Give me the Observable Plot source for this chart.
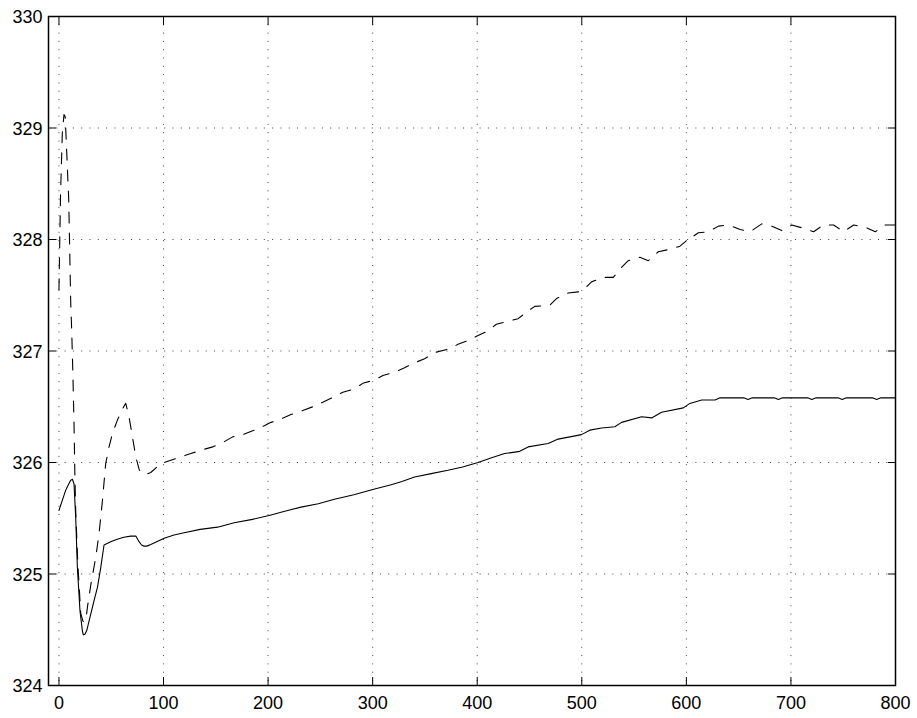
<!DOCTYPE html>
<html><head><meta charset="utf-8">
<script src="https://cdn.jsdelivr.net/npm/d3@7"></script>
<script src="https://cdn.jsdelivr.net/npm/@observablehq/plot@0.6"></script>
<style>html,body{margin:0;padding:0;background:#fff;} svg{display:block}
#chart svg text{font-size:18px !important;font-family:'Liberation Sans',Arial,sans-serif !important;fill:#000;}</style>
</head><body><div id="chart"></div>
<script>
const xTicks = [0, 100, 200, 300, 400, 500, 600, 700, 800];
const yTicks = [324, 325, 326, 327, 328, 329, 330];

// solid series [x, y]
const solidSeries = [
  [0,325.57],[3.2,325.66],[6.4,325.75],[9,325.80],[11.2,325.84],[12.8,325.85],[14.4,325.81],
  [16,325.51],[17.6,325.06],[20.1,324.67],[22.4,324.49],[23.3,324.455],[24.8,324.46],[26.5,324.49],
  [30.4,324.64],[33.5,324.76],[36.8,324.88],[40,325.06],[43.1,325.26],[49.5,325.29],[55,325.31],
  [62,325.33],[68.7,325.34],[73.5,325.34],[76.6,325.29],[79,325.26],[81.4,325.25],[84,325.25],
  [87.8,325.265],[100.6,325.32],[110,325.35],[119.7,325.37],[135,325.40],[151.7,325.42],
  [167.6,325.46],[185,325.49],[201,325.525],[215,325.56],[231.5,325.60],[248,325.63],
  [263.4,325.67],[282,325.71],[301,325.76],[317.7,325.80],[328,325.83],[340,325.87],[356,325.90],
  [372,325.93],[386,325.96],[400.8,326.0],[413,326.04],[426.2,326.08],[440.6,326.10],[448.7,326.14],
  [467.8,326.17],[477.4,326.21],[499.7,326.25],[507.7,326.29],[518.9,326.31],[531.6,326.32],
  [538,326.36],[557.2,326.41],[566.8,326.40],[576.3,326.45],[597.1,326.49],[603.4,326.53],
  [614.7,326.56],[627.4,326.56],[632.2,326.58],[655,326.58],[659,326.565],[663,326.58],
  [684,326.58],[688,326.565],[692,326.58],[716,326.58],[720,326.565],[724,326.58],[745,326.58],
  [749,326.565],[753,326.58],[778,326.58],[782,326.565],[786,326.58],[800,326.58]
];

// dashed series [x, y]
const dashedSeries = [
  [0,327.55],[1.5,328.4],[3.2,328.95],[4.8,329.12],[6,329.1],[6.9,328.9],[8,328.65],[9.3,328.37],
  [10.2,327.95],[11.2,327.45],[12.2,327.18],[13.3,326.8],[14.4,326.35],[15.3,325.85],[16,325.57],
  [18,325.1],[20.8,324.65],[22.8,324.58],[24,324.57],[25.6,324.58],[27.2,324.70],[30.4,324.9],
  [35.2,325.15],[38.3,325.36],[41.6,325.66],[44.7,325.99],[47.9,326.14],[51.1,326.26],[55.9,326.38],
  [60.7,326.48],[63.9,326.53],[67,326.41],[70.3,326.23],[73.5,326.05],[76.6,325.94],[78.3,325.91],
  [82,325.89],[87.8,325.91],[97.4,325.99],[107,326.02],[116.6,326.05],[126.1,326.08],[135.7,326.11],
  [147,326.14],[154.9,326.17],[166.1,326.23],[175.7,326.25],[186.8,326.29],[196.4,326.33],
  [202.8,326.36],[212.3,326.39],[221.9,326.43],[231.5,326.46],[242.7,326.50],[252.3,326.54],
  [263.4,326.59],[271.5,326.63],[282.6,326.66],[290.6,326.71],[301.7,326.74],[309.8,326.78],
  [320.9,326.81],[330.5,326.85],[341.7,326.90],[349.6,326.93],[360.8,326.99],[373.6,327.02],
  [381.6,327.06],[392.7,327.10],[400.8,327.14],[410.3,327.18],[418.3,327.24],[431,327.27],
  [439.1,327.29],[448.7,327.36],[455,327.40],[469.3,327.41],[475.8,327.47],[487,327.52],
  [496.6,327.53],[502.9,327.56],[509.3,327.62],[520.5,327.66],[530.1,327.66],[538,327.75],
  [544.4,327.81],[555.6,327.84],[563.6,327.81],[573.2,327.89],[582.8,327.91],[593.9,327.94],
  [600.3,327.99],[611.5,328.06],[621.1,328.07],[630.7,328.12],[640.2,328.13],[651.4,328.09],
  [661,328.07],[672.1,328.14],[681.7,328.12],[691.3,328.08],[700.9,328.13],[712.1,328.10],
  [721.7,328.07],[731.2,328.13],[740.8,328.13],[750.4,328.07],[760,328.13],[771.1,328.11],
  [780.7,328.07],[790.2,328.13],[799.8,328.13]
];

const fmt = d3.format("d");
const chart = Plot.plot({
  width: 917,
  height: 718,
  marginLeft: 48,
  marginRight: 22,
  marginTop: 16,
  marginBottom: 33,
  style: {fontFamily: "'Liberation Sans', Arial, sans-serif", fontSize: "18px", background: "#fff", color: "#000"},
  x: {domain: [-10, 800]},
  y: {domain: [324, 330]},
  marks: [
    Plot.gridX(xTicks, {stroke: "#000", strokeOpacity: 0.75, strokeWidth: 1, strokeDasharray: "1,7.3"}),
    Plot.gridY(yTicks, {stroke: "#000", strokeOpacity: 0.75, strokeWidth: 1, strokeDasharray: "1,7.3"}),
    Plot.line(solidSeries, {x: d => d[0], y: d => d[1], stroke: "#000", strokeWidth: 1.1}),
    Plot.line(dashedSeries, {x: d => d[0], y: d => d[1], stroke: "#000", strokeWidth: 1.1, strokeDasharray: "11,10"}),
    // labels
    Plot.axisX(xTicks, {anchor: "bottom", tickSize: 0, tickPadding: 11, label: null, tickFormat: fmt, fontSize: 18}),
    Plot.axisY(yTicks, {anchor: "left", tickSize: 0, tickPadding: 6, label: null, tickFormat: fmt, fontSize: 18, dy: 1}),
    // inward ticks on all sides
    Plot.axisX(xTicks, {anchor: "bottom", tickSize: 8, dy: -8, fill: "none", label: null, strokeWidth: 1}),
    Plot.axisX(xTicks, {anchor: "top", tickSize: 8, dy: 8, fill: "none", label: null, strokeWidth: 1}),
    Plot.axisY(yTicks, {anchor: "left", tickSize: 8, dx: 8, fill: "none", label: null, strokeWidth: 1}),
    Plot.axisY(yTicks, {anchor: "right", tickSize: 8, dx: -8, fill: "none", label: null, strokeWidth: 1}),
    Plot.frame({stroke: "#000", strokeWidth: 1.5})
  ]
});
document.getElementById("chart").appendChild(chart);
</script>
</body></html>
